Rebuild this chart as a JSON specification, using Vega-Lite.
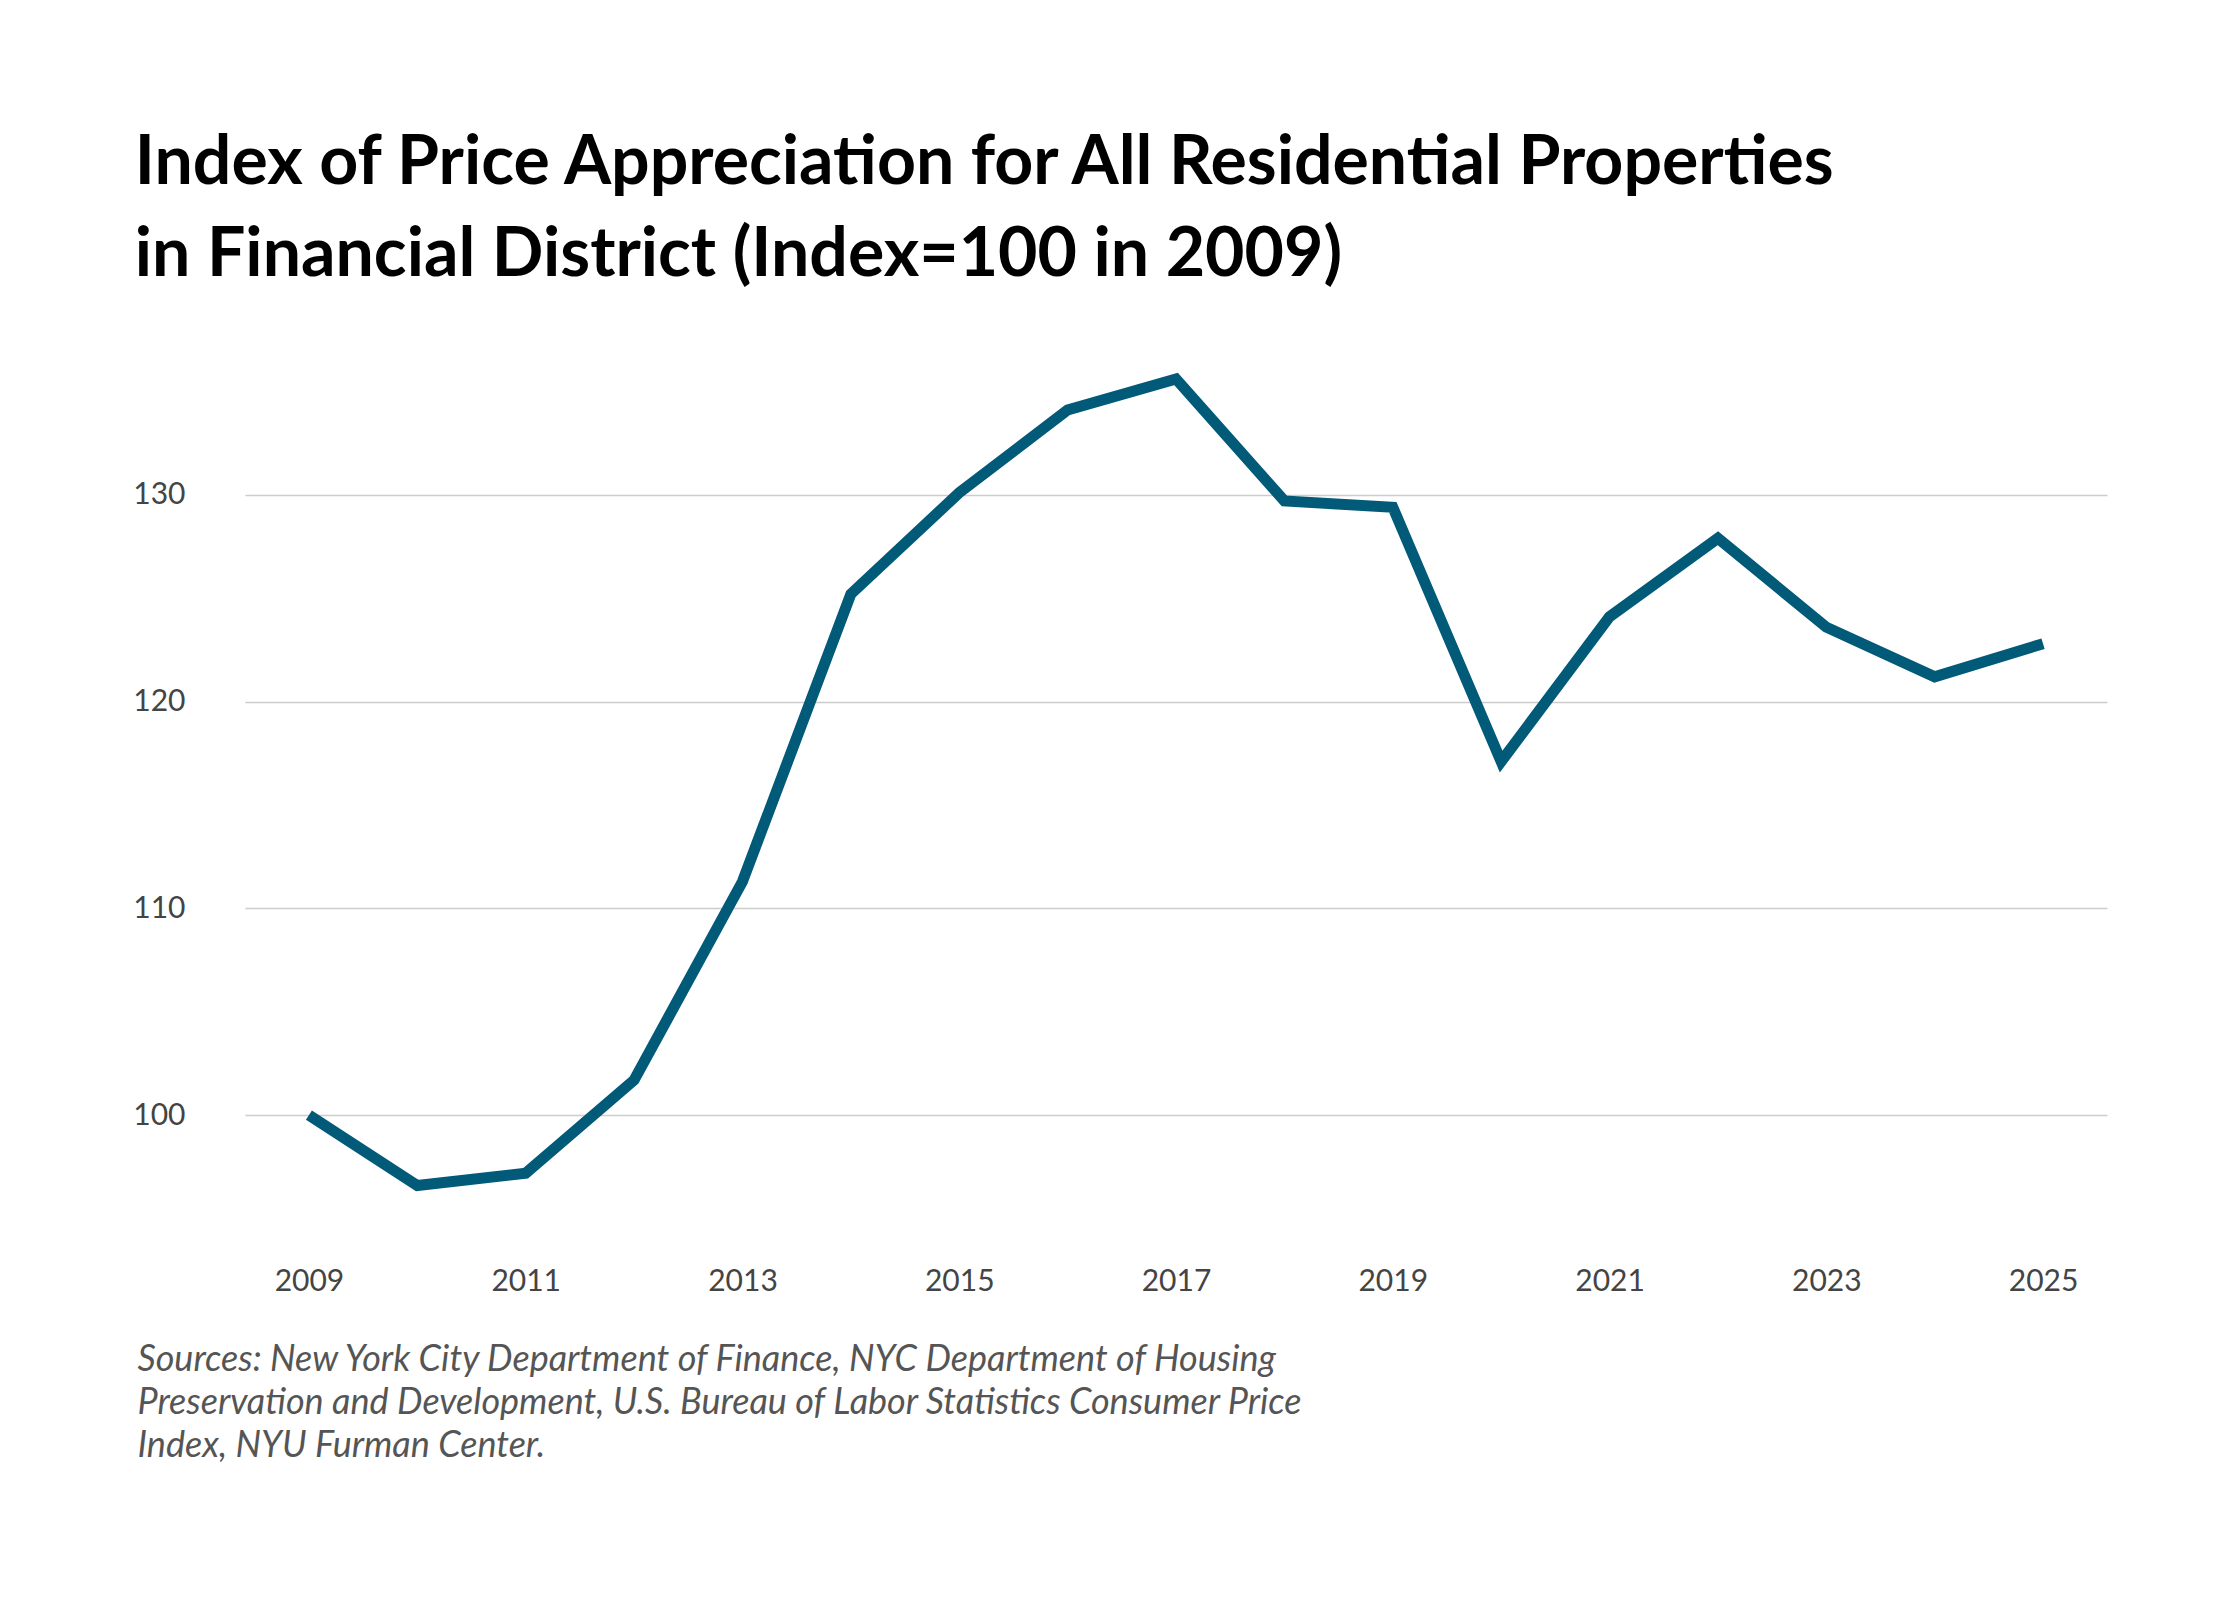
{
  "$schema": "https://vega.github.io/schema/vega-lite/v6.json",
  "width": 1862,
  "height": 910,
  "autosize": "none",
  "padding": {"left": 245, "top": 350, "right": 133, "bottom": 340},
  "background": "white",
  "title": {
    "text": ["Index of Price Appreciation for All Residential Properties", "in Financial District (Index=100 in 2009)"],
    "anchor": "start",
    "dx": 2,
    "offset": 60,
    "font": "Lato",
    "fontWeight": "bold",
    "fontSize": 68,
    "lineHeight": 92,
    "color": "#000000"
  },
  "config": {
    "view": {"stroke": null},
    "axis": {"labelFont": "Lato", "labelFontSize": 30, "labelColor": "#444444", "domain": false, "ticks": false}
  },
  "data": {
    "values": [
      {"year": 2009, "index": 100.0},
      {"year": 2010, "index": 96.6},
      {"year": 2011, "index": 97.2},
      {"year": 2012, "index": 101.7},
      {"year": 2013, "index": 111.3},
      {"year": 2014, "index": 125.2},
      {"year": 2015, "index": 130.1},
      {"year": 2016, "index": 134.1},
      {"year": 2017, "index": 135.6},
      {"year": 2018, "index": 129.7},
      {"year": 2019, "index": 129.4},
      {"year": 2020, "index": 117.1},
      {"year": 2021, "index": 124.1},
      {"year": 2022, "index": 127.9},
      {"year": 2023, "index": 123.6},
      {"year": 2024, "index": 121.2},
      {"year": 2025, "index": 122.8}
    ]
  },
  "mark": {"type": "line", "color": "#005a78", "strokeWidth": 11, "strokeJoin": "miter"},
  "encoding": {
    "x": {
      "field": "year",
      "type": "quantitative",
      "scale": {"domain": [2008.41, 2025.59], "nice": false, "zero": false},
      "axis": {
        "values": [2009, 2011, 2013, 2015, 2017, 2019, 2021, 2023, 2025],
        "format": "d",
        "grid": false,
        "labelPadding": 6,
        "title": ["Sources: New York City Department of Finance, NYC Department of Housing", "Preservation and Development, U.S. Bureau of Labor Statistics Consumer Price", "Index, NYU Furman Center."],
        "titleAnchor": "start",
        "titleAlign": "left",
        "titleBaseline": "alphabetic",
        "titleX": -108,
        "titleY": 110,
        "titleFont": "Lato",
        "titleFontSize": 36,
        "titleFontStyle": "italic",
        "titleFontWeight": "normal",
        "titleColor": "#555555",
        "titleLineHeight": 43
      }
    },
    "y": {
      "field": "index",
      "type": "quantitative",
      "scale": {"domain": [93, 137], "nice": false, "zero": false},
      "axis": {
        "values": [100, 110, 120, 130],
        "title": null,
        "gridColor": "#cccccc",
        "gridWidth": 1.5,
        "labelPadding": 60
      }
    }
  }
}
